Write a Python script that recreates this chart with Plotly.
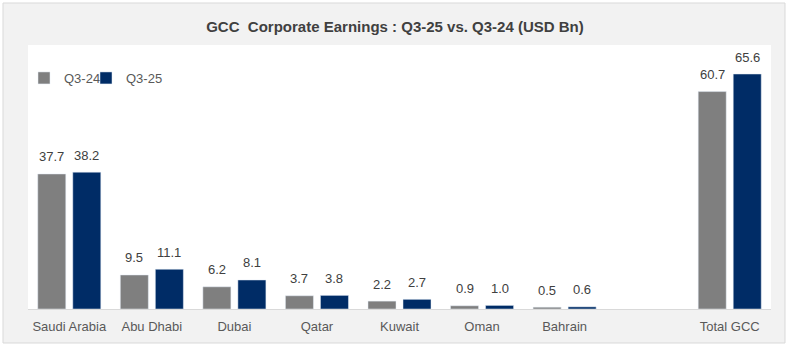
import plotly.graph_objects as go

categories = ["Saudi Arabia", "Abu Dhabi", "Dubai", "Qatar", "Kuwait", "Oman", "Bahrain", " ", "Total GCC"]
q3_24 = [37.7, 9.5, 6.2, 3.7, 2.2, 0.9, 0.5, None, 60.7]
q3_25 = [38.2, 11.1, 8.1, 3.8, 2.7, 1.0, 0.6, None, 65.6]
series_names = ["Q3-24", "Q3-25"]
colors = ["#7f7f7f", "#002c66"]

W, H = 790, 348
L, R, T, B = 28, 19, 45, 39
pw, ph = W - L - R, H - T - B
BARGAP = 0.1515
cat_px = pw / len(categories)
slot_px = cat_px * (1 - BARGAP) / 2

def px_x(p):
    return (p - L) / pw

def px_y(p):
    return (H - B - p) / ph

legend_names = ["legend", "legend2"]
legend_left_px = [24, 86]

fig = go.Figure()
annotations = []
legends = {}
for i, (name, vals, col) in enumerate(zip(series_names, [q3_24, q3_25], colors)):
    fig.add_trace(go.Bar(x=categories, y=vals, name=name, marker_color=col,
                         legend=legend_names[i]))
    legends[legend_names[i]] = dict(
        orientation="h", x=px_x(legend_left_px[i]), y=px_y(63),
        xanchor="left", yanchor="top", bgcolor="rgba(0,0,0,0)",
        font=dict(size=13, color="#595959"), itemwidth=30,
    )
    shift = (i - 0.5) * slot_px
    for c, v in zip(categories, vals):
        if v is None:
            continue
        annotations.append(dict(
            x=c, y=v, xref="x", yref="y", text=f"{v:.1f}", showarrow=False,
            xshift=shift, yshift=17, yanchor="middle", xanchor="center",
            font=dict(size=13, color="#404040", family="Liberation Sans"),
        ))

fig.update_layout(
    width=W, height=H,
    margin=dict(l=L, r=R, t=T, b=B),
    paper_bgcolor="white",
    plot_bgcolor="rgba(0,0,0,0)",
    barmode="group", bargap=BARGAP, bargroupgap=0.2,
    font=dict(family="Liberation Sans", size=13, color="#595959"),
    title=dict(
        text="<b>GCC  Corporate Earnings : Q3-25 vs. Q3-24 (USD Bn)</b>",
        font=dict(family="Liberation Sans", size=15, color="#404040"),
        x=0.5, xanchor="center", xref="container",
        y=1 - 27 / H, yanchor="middle", yref="container",
    ),
    showlegend=True,
    xaxis=dict(
        showline=True, linecolor="#d9d9d9", linewidth=1,
        ticks="outside", ticklen=5, tickcolor="rgba(0,0,0,0)",
        tickfont=dict(size=13, color="#595959"),
        showgrid=False,
    ),
    yaxis=dict(range=[0, 73.7], visible=False, showgrid=False),
    annotations=annotations,
    shapes=[
        dict(type="rect", xref="paper", yref="paper", layer="below",
             x0=px_x(3), x1=px_x(785), y0=px_y(343), y1=px_y(3),
             fillcolor="#f2f2f2", line=dict(color="#d9d9d9", width=1)),
        dict(type="rect", xref="paper", yref="paper", layer="below",
             x0=0, x1=1, y0=0, y1=1,
             fillcolor="white", line=dict(width=0)),
    ],
    **legends,
)

fig.write_html("out.html")
